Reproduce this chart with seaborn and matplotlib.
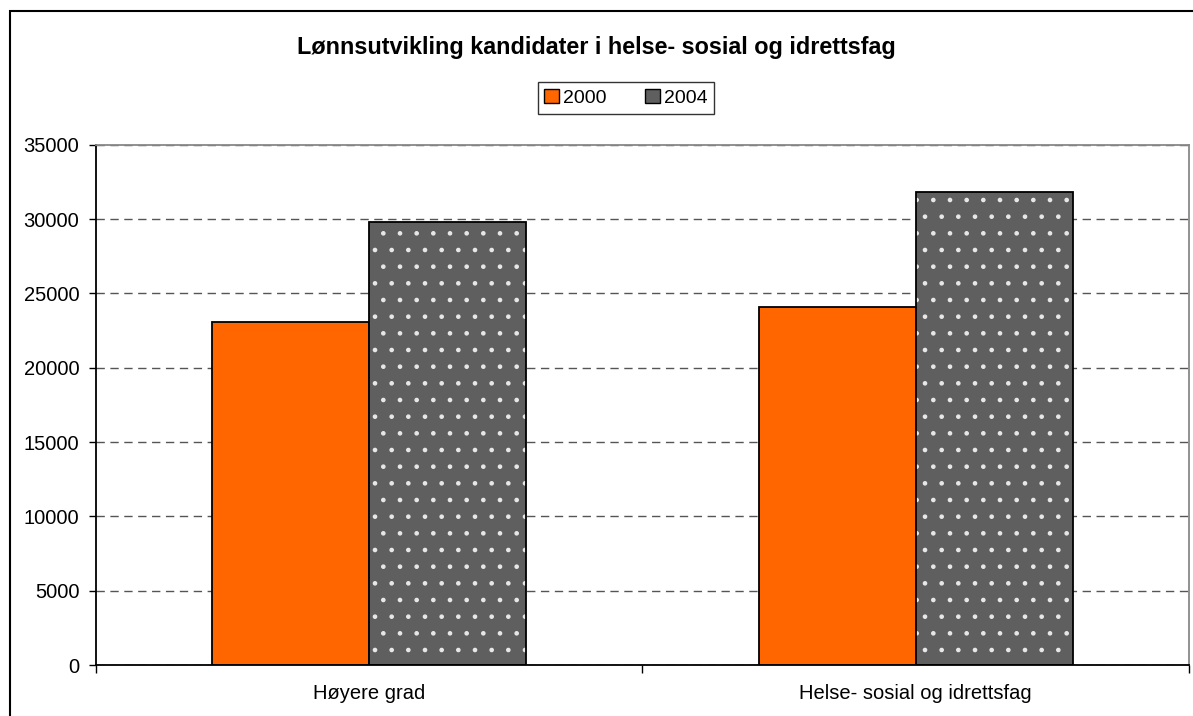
import matplotlib
matplotlib.use("Agg")
import matplotlib.pyplot as plt
from matplotlib.patches import Rectangle, Patch
import pandas as pd
import seaborn as sns

categories = ["Høyere grad", "Helse- sosial og idrettsfag"]
years = ["2000", "2004"]
values_2000 = [23100, 24100]
values_2004 = [29800, 31800]
title = "Lønnsutvikling kandidater i helse- sosial og idrettsfag"

df = pd.DataFrame({
    "kategori": categories * 2,
    "aar": [years[0]] * 2 + [years[1]] * 2,
    "lonn": values_2000 + values_2004,
})

sns.set_style("white")
plt.rcParams["font.family"] = ["Liberation Sans", "DejaVu Sans"]
plt.rcParams["text.color"] = "black"
plt.rcParams["xtick.color"] = "black"
plt.rcParams["ytick.color"] = "black"
plt.rcParams["hatch.linewidth"] = 0.9

orange = "#ff6600"
grey = "#5f5f5f"

fig = plt.figure(figsize=(11.93, 7.16), dpi=100)
ax = fig.add_axes([0.0805, 0.0712, 0.9161, 0.7267])

sns.barplot(data=df, x="kategori", y="lonn", hue="aar", order=categories,
            hue_order=years, palette={"2000": orange, "2004": grey},
            saturation=1, width=0.575, gap=0, edgecolor="black",
            linewidth=1.3, legend=False, ax=ax)

# dotted fill for 2004 bars: light hatch, then black outline on top
for bar in ax.containers[1]:
    bar.set_hatch(".")
    bar.set_edgecolor("#e8e8e8")
    bar.set_linewidth(0)
    bb = bar.get_bbox()
    ax.add_patch(Rectangle((bb.x0, bb.y0), bb.width, bb.height, fill=False,
                           edgecolor="black", linewidth=1.3, zorder=3))

ax.set_ylim(0, 35000)
ax.set_xlim(-0.5, 1.5)
ax.set_yticks(range(0, 35001, 5000))
ax.set_xticks([0, 1])
ax.set_xticklabels(categories, fontsize=14.5)
ax.tick_params(axis="y", labelsize=14.5, length=5, width=1, direction="out",
               left=True, pad=7)
ax.tick_params(axis="x", length=0, pad=14)
ax.set_xlabel("")
ax.set_ylabel("")
ax.set_axisbelow(True)
ax.yaxis.grid(True, linestyle=(0, (6, 4)), color="#555555", linewidth=1)

# category boundary ticks on the x axis
ax.set_xticks([-0.5, 0.5, 1.5], minor=True)
ax.tick_params(axis="x", which="minor", length=6, width=1, direction="out",
               bottom=True)

for side in ["left", "bottom"]:
    ax.spines[side].set_color("black")
    ax.spines[side].set_linewidth(1.3)
for side in ["top", "right"]:
    ax.spines[side].set_color("#888888")
    ax.spines[side].set_linewidth(1.3)

fig.text(0.5, 0.933, title, ha="center", va="center", fontsize=16.8,
         fontweight="bold")

handles = [Patch(facecolor=orange, edgecolor="black", label="2000"),
           Patch(facecolor=grey, edgecolor="black", label="2004")]
fig.legend(handles=handles, loc="center", bbox_to_anchor=(0.5247, 0.863),
           ncol=2, frameon=True, fancybox=False, edgecolor="black",
           fontsize=14, handlelength=0.75, handleheight=0.75,
           handletextpad=0.2, columnspacing=2.0, borderpad=0.35)

fig.patches.append(Rectangle((10 / 1193, -0.1), 1.2, 1.1 - 11 / 716,
                             transform=fig.transFigure, fill=False,
                             edgecolor="black", linewidth=1.5))

fig.savefig("out.png", dpi=100)
